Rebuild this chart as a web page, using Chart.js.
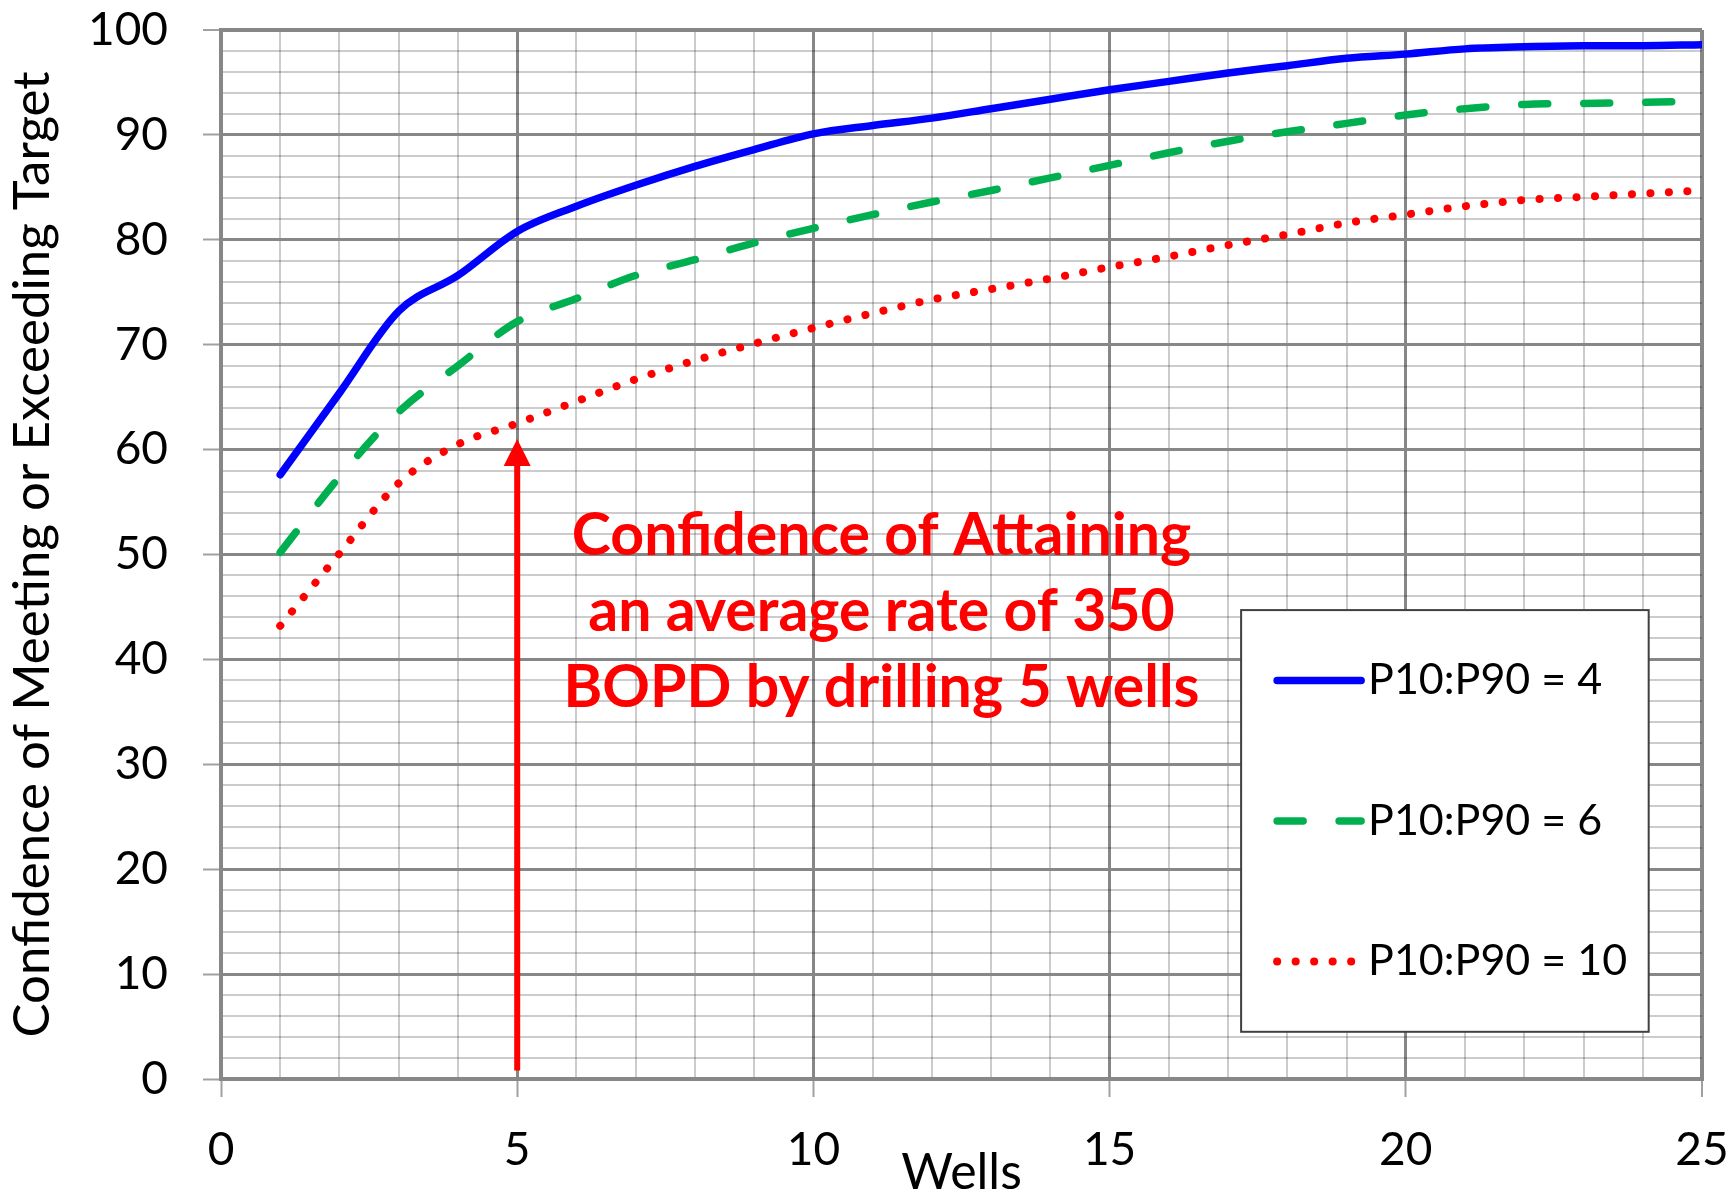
<!DOCTYPE html>
<html>
<head>
<meta charset="utf-8">
<script src="https://cdn.jsdelivr.net/npm/chart.js@4.4.1/dist/chart.umd.min.js"></script>
<style>
  html, body { margin: 0; padding: 0; background: #fff; }
</style>
</head>
<body>
<canvas id="chart" width="1735" height="1195"></canvas>
<script>
// values
const wells = [1, 2, 3, 4, 5, 6, 7, 8, 9, 10, 11, 12, 13, 14, 15, 16, 17, 18, 19, 20, 21, 22, 23, 24, 25];
const ratio4 = [57.6, 65.4, 73.2, 76.6, 80.8, 83.2, 85.2, 87.0, 88.6, 90.1, 90.9, 91.6, 92.5, 93.4, 94.3, 95.1, 95.9, 96.6, 97.3, 97.7, 98.2, 98.4, 98.5, 98.5, 98.6];
const ratio6 = [50.2, 57.4, 63.6, 68.0, 72.2, 74.4, 76.6, 78.1, 79.7, 81.1, 82.4, 83.6, 84.7, 85.9, 87.1, 88.3, 89.4, 90.3, 91.1, 91.9, 92.5, 92.9, 93.0, 93.1, 93.2];
const ratio10 = [43.2, 50.1, 56.8, 60.5, 62.5, 64.6, 66.7, 68.5, 70.1, 71.6, 73.0, 74.3, 75.3, 76.3, 77.4, 78.4, 79.5, 80.5, 81.6, 82.4, 83.2, 83.8, 84.1, 84.4, 84.7];
const seriesLabels = ['P10:P90 = 4', 'P10:P90 = 6', 'P10:P90 = 10'];

const xTitle = 'Wells';
const yTitle = 'Confidence of Meeting or Exceeding Target';
const noteLines = ['Confidence of Attaining', 'an average rate of 350', 'BOPD by drilling 5 wells'];
const noteAt = [11.15, 44.5];        // centre of the note, in wells / %
const arrowWell = 5;
const arrowFrom = 0.8;
const arrowTo = 61;
const legendCorners = [17.22, 44.7, 24.1, 4.5]; // x1, y1, x2, y2 in data units

const RED = '#ff0000';
const MAJOR = '#878787';
const MINOR = 'rgba(0,0,0,0.2)';
const FONT = 'Lato, "Open Sans", sans-serif';

Chart.defaults.font.family = FONT;
Chart.defaults.color = '#000';

const toPoints = vals => wells.map((w, i) => ({ x: w, y: vals[i] }));

// red arrow + bold note
const notePlugin = {
  id: 'note',
  afterDatasetsDraw(chart) {
    const { ctx, scales: { x, y } } = chart;
    const ax = x.getPixelForValue(arrowWell);
    const tip = y.getPixelForValue(arrowTo);
    const base = y.getPixelForValue(arrowFrom);
    ctx.save();
    ctx.strokeStyle = RED;
    ctx.fillStyle = RED;
    ctx.lineWidth = 6;
    ctx.beginPath();
    ctx.moveTo(ax, base);
    ctx.lineTo(ax, tip + 20);
    ctx.stroke();
    ctx.beginPath();
    ctx.moveTo(ax, tip);
    ctx.lineTo(ax - 13.5, tip + 27);
    ctx.lineTo(ax + 13.5, tip + 27);
    ctx.closePath();
    ctx.fill();

    ctx.font = 'bold 59px ' + FONT;
    ctx.textAlign = 'center';
    ctx.textBaseline = 'middle';
    const tx = x.getPixelForValue(noteAt[0]);
    const ty = y.getPixelForValue(noteAt[1]);
    noteLines.forEach((t, i) => ctx.fillText(t, tx, ty + (i - 1) * 76));
    ctx.restore();
  }
};

// boxed legend inside the plot
const boxLegend = {
  id: 'boxLegend',
  afterDatasetsDraw(chart) {
    const { ctx, scales: { x, y } } = chart;
    const left = x.getPixelForValue(legendCorners[0]);
    const top = y.getPixelForValue(legendCorners[1]);
    const right = x.getPixelForValue(legendCorners[2]);
    const bottom = y.getPixelForValue(legendCorners[3]);
    ctx.save();
    ctx.fillStyle = '#fff';
    ctx.fillRect(left, top, right - left, bottom - top);
    ctx.strokeStyle = '#404040';
    ctx.lineWidth = 2;
    ctx.strokeRect(left, top, right - left, bottom - top);

    const row = (bottom - top) / chart.data.datasets.length;
    chart.data.datasets.forEach((ds, i) => {
      const cy = top + row * (i + 0.5);
      ctx.strokeStyle = ds.borderColor;
      ctx.lineWidth = ds.borderWidth;
      ctx.lineCap = 'round';
      ctx.setLineDash(ds.borderDash || []);
      ctx.beginPath();
      ctx.moveTo(left + 36, cy);
      ctx.lineTo(left + 120, cy);
      ctx.stroke();
      ctx.setLineDash([]);
      ctx.fillStyle = '#000';
      ctx.font = '43px ' + FONT;
      ctx.textAlign = 'left';
      ctx.textBaseline = 'middle';
      ctx.fillText(ds.label, left + 127, cy);
    });
    ctx.restore();
  }
};

new Chart(document.getElementById('chart'), {
  type: 'line',
  data: {
    datasets: [
      {
        label: seriesLabels[0],
        data: toPoints(ratio4),
        borderColor: '#0000ff',
        borderWidth: 7.5,
        borderCapStyle: 'round',
        cubicInterpolationMode: 'monotone',
        pointRadius: 0,
      },
      {
        label: seriesLabels[1],
        data: toPoints(ratio6),
        borderColor: '#00b050',
        borderWidth: 7.5,
        borderDash: [26, 36],
        borderCapStyle: 'round',
        cubicInterpolationMode: 'monotone',
        pointRadius: 0,
      },
      {
        label: seriesLabels[2],
        data: toPoints(ratio10),
        borderColor: RED,
        borderWidth: 8,
        borderDash: [0.1, 18.4],
        borderCapStyle: 'round',
        cubicInterpolationMode: 'monotone',
        pointRadius: 0,
      },
    ],
  },
  options: {
    responsive: false,
    animation: false,
    layout: { padding: { top: 30, right: 33, bottom: 0, left: 0 } },
    plugins: {
      legend: { display: false },
      tooltip: { enabled: false },
    },
    scales: {
      x: {
        type: 'linear',
        min: 0,
        max: 25,
        ticks: {
          stepSize: 1,
          autoSkip: false,
          maxRotation: 0,
          padding: 25.5,
          font: { size: 46 },
          callback: v => (v % 5 === 0 ? v : ''),
        },
        grid: {
          color: c => (c.tick.value % 5 === 0 ? MAJOR : MINOR),
          lineWidth: c => (c.tick.value === 25 ? 4 : c.tick.value % 5 === 0 ? 3 : 2),
          tickLength: 18,
          tickWidth: 2,
          tickColor: c => (c.tick.value % 5 === 0 ? '#a0a0a0' : 'rgba(0,0,0,0)'),
        },
        border: { color: MAJOR, width: 4 },
        title: { display: true, text: xTitle, font: { size: 50, lineHeight: 1 }, padding: { top: 0, bottom: -3 } },
        afterFit: s => {
          s.height = 116;
          s.paddingLeft = 0;
          s.paddingRight = 0;
        },
      },
      y: {
        min: 0,
        max: 100,
        ticks: {
          stepSize: 2,
          autoSkip: false,
          padding: 35,
          font: { size: 46 },
          callback: v => (v % 10 === 0 ? v : ''),
        },
        grid: {
          color: c => (c.tick.value % 10 === 0 ? MAJOR : MINOR),
          lineWidth: c => (c.tick.value === 100 ? 4 : c.tick.value % 10 === 0 ? 3 : 2),
          tickLength: 18,
          tickWidth: 2,
          tickColor: c => (c.tick.value % 10 === 0 ? '#a0a0a0' : 'rgba(0,0,0,0)'),
        },
        border: { color: MAJOR, width: 4 },
        title: { display: true, text: yTitle, font: { size: 51, lineHeight: 1 }, padding: { top: 7.5, bottom: 0 } },
        afterFit: s => {
          s.width = 221;
          s.paddingTop = 0;
          s.paddingBottom = 0;
        },
      },
    },
  },
  plugins: [notePlugin, boxLegend],
});
</script>
</body>
</html>
